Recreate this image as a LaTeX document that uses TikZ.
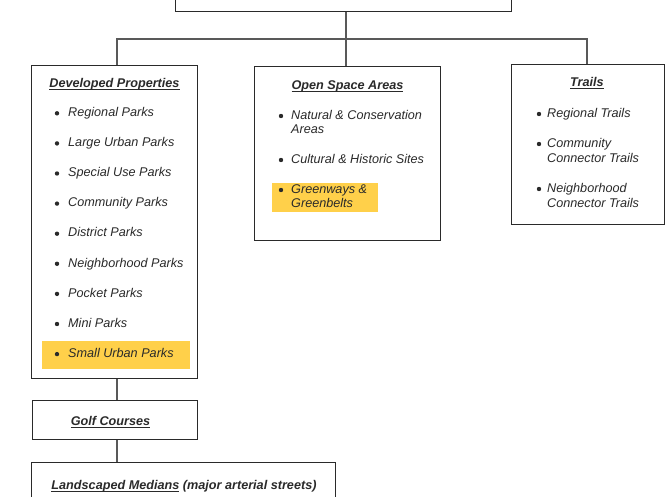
\documentclass[tikz,border=0pt]{standalone}
\usepackage{fontspec}
\setmainfont{Liberation Sans}
\newcommand\myul[1]{\setbox0\hbox{#1}\rlap{\rule[-2.6pt]{\wd0}{1.1pt}}\box0\relax}
\definecolor{hlc}{HTML}{FFD04A}
\definecolor{ink}{HTML}{2A2A2A}
\begin{document}
\begin{tikzpicture}[x=1pt,y=-1pt,
  box/.style={draw=ink, line width=1pt, inner sep=0pt, fill=white},
  conn/.style={draw=black!65, line width=1.1pt},
  ttl/.style={anchor=base, inner sep=0pt, text=ink, font=\fontsize{12.65}{15}\selectfont\bfseries\itshape},
  itm/.style={anchor=base west, inner sep=0pt, text=ink, font=\fontsize{12.65}{15}\selectfont\itshape},
  bul/.style={circle, fill=ink, inner sep=0pt, minimum size=4.4pt}]
\useasboundingbox (0,0) rectangle (670,496);
\clip (0,0) rectangle (670,496);
% boxes
\node[box, minimum width=336pt, minimum height=42pt] (top) at (343,-10) {};
\node[box, minimum width=166pt, minimum height=313pt] (dev) at (114,221.5) {};
\node[box, minimum width=186pt, minimum height=174pt] (open) at (347,153) {};
\node[box, minimum width=153pt, minimum height=160pt] (trails) at (587.5,144) {};
\node[box, minimum width=165pt, minimum height=39pt] (golf) at (114.5,419.5) {};
\node[box, minimum width=304pt, minimum height=48pt] (land) at (183,486) {};
% connectors
\coordinate (busL) at (117,39);
\coordinate (busM) at (346,39);
\coordinate (busR) at (587,39);
\draw[conn] (busM |- top.south) -- (busM |- open.north);
\draw[conn] (busL |- dev.north) -- (busL) -- (busR) -- (busR |- trails.north);
\draw[conn] (busL |- dev.south) -- (busL |- golf.north);
\draw[conn] (busL |- golf.south) -- (busL |- land.north);
% highlights
\fill[hlc] (42,341) rectangle (190,369);
\fill[hlc] (272,183) rectangle (378,212);
% titles
\node[ttl] (devT) at (114.5,87.5) {\myul{Developed Properties}};
\node[ttl] (openT) at (347.5,89.5) {\myul{Open Space Areas}};
\node[ttl] (trT) at (587,86.5) {\myul{Trails}};
\node[ttl] (golfT) at (110.5,425.5) {\myul{Golf Courses}};
\node[ttl] (landT) at (184,489.5) {\myul{Landscaped Medians} (major arterial streets)};
% developed items
\foreach \t [count=\i] in {Regional Parks, Large Urban Parks, Special Use Parks, Community Parks, District Parks, Neighborhood Parks, Pocket Parks, Mini Parks, Small Urban Parks}{
  \node[itm] (d\i) at (68,{116.5+30.1*(\i-1)}) {\t};
  \node[bul] (db\i) at (57,{113.3+30.1*(\i-1)}) {};
}
% open space items
\node[bul] (ob1) at (281,116) {};
\node[itm] (o1a) at (291,119.5) {Natural \& Conservation};
\node[itm] (o1b) at (291,133.8) {Areas};
\node[bul] (ob2) at (281,160) {};
\node[itm] (o2) at (291,163.5) {Cultural \& Historic Sites};
\node[bul] (ob3) at (281,190) {};
\node[itm] (o3a) at (291,193.5) {Greenways \&};
\node[itm] (o3b) at (291,207.8) {Greenbelts};
% trails items
\node[bul] (tb1) at (539,114) {};
\node[itm] (t1) at (547,117.5) {Regional Trails};
\node[bul] (tb2) at (539,144) {};
\node[itm] (t2a) at (547,147.5) {Community};
\node[itm] (t2b) at (547,162) {Connector Trails};
\node[bul] (tb3) at (539,189) {};
\node[itm] (t3a) at (547,192.5) {Neighborhood};
\node[itm] (t3b) at (547,207) {Connector Trails};
\end{tikzpicture}
\end{document}
